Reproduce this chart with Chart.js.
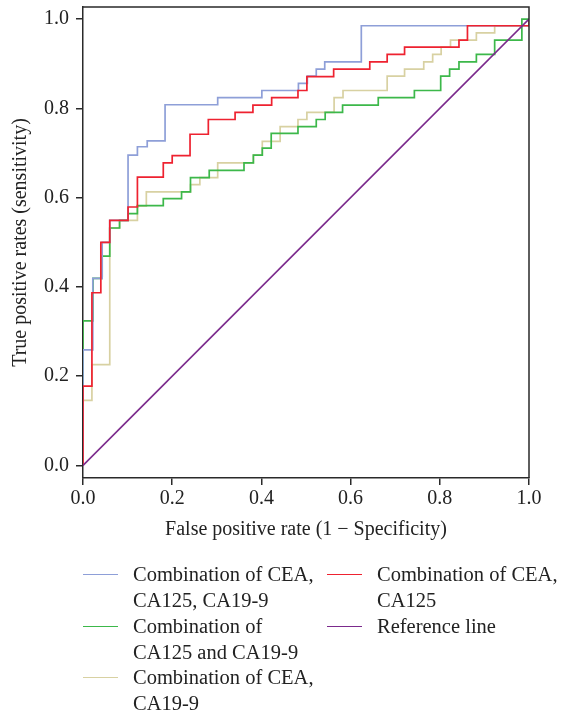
<!DOCTYPE html>
<html><head><meta charset="utf-8">
<script src="https://cdn.jsdelivr.net/npm/chart.js@4.4.0/dist/chart.umd.min.js"></script>
<style>
html,body{margin:0;padding:0;background:#fff;}
#wrap{position:relative;width:564px;height:714px;overflow:hidden;background:#fff;}
#c{position:absolute;left:0;top:0;}
#legend{position:absolute;left:0;top:0;width:564px;height:714px;font-family:"Liberation Serif",serif;font-size:20.5px;color:#222;}
.item{position:absolute;line-height:25.5px;}
.item .sw{position:absolute;height:0;border-top:1.5px solid;width:35px;top:12px;}
.item .tx{position:absolute;white-space:nowrap;}
</style></head>
<body>
<div id="wrap">
<canvas id="c" width="564" height="545" style="width:564px;height:545px"></canvas>
<div id="legend"></div>
</div>
<script>
// ---- data ----
const seriesLabels = [
  "Combination of CEA,\nCA125, CA19-9",
  "Combination of CEA,\nCA125",
  "Combination of\nCA125 and CA19-9",
  "Reference line",
  "Combination of CEA,\nCA19-9"
];
const xTicks = [0, 0.2, 0.4, 0.6, 0.8, 1.0];
const yTicks = [0, 0.2, 0.4, 0.6, 0.8, 1.0];

const fprAll = [0,0,0.022,0.043,0.06,0.101,0.122,0.144,0.184,0.302,0.401,0.483,0.503,0.523,0.542,0.624,1,1];
const tprAll = [0,0.259,0.419,0.50,0.549,0.695,0.714,0.727,0.808,0.824,0.840,0.856,0.872,0.888,0.904,0.985,0.985,1];

const fprCEA125 = [0,0,0.02,0.04,0.06,0.101,0.122,0.18,0.2,0.24,0.281,0.341,0.381,0.423,0.482,0.502,0.562,0.643,0.682,0.721,0.843,0.862,1,1];
const tprCEA125 = [0,0.178,0.387,0.50,0.549,0.579,0.646,0.678,0.694,0.742,0.775,0.791,0.807,0.824,0.840,0.871,0.888,0.904,0.921,0.937,0.953,0.985,0.985,1];

const fpr125_199 = [0,0,0.0225,0.043,0.06,0.082,0.101,0.122,0.18,0.221,0.241,0.283,0.361,0.382,0.402,0.422,0.482,0.523,0.543,0.582,0.662,0.743,0.802,0.822,0.843,0.882,0.923,0.984,1];
const tpr125_199 = [0,0.324,0.419,0.469,0.532,0.549,0.564,0.582,0.598,0.613,0.645,0.661,0.678,0.695,0.711,0.744,0.759,0.775,0.791,0.807,0.824,0.840,0.872,0.888,0.904,0.921,0.953,1.0,1.0];

const fprCEA199 = [0,0,0.02,0.06,0.082,0.122,0.142,0.241,0.262,0.302,0.382,0.402,0.442,0.482,0.502,0.563,0.583,0.682,0.721,0.764,0.784,0.803,0.824,0.882,0.923,1,1];
const tprCEA199 = [0,0.146,0.226,0.532,0.549,0.581,0.613,0.629,0.645,0.678,0.695,0.726,0.759,0.775,0.791,0.824,0.840,0.872,0.888,0.904,0.921,0.937,0.953,0.969,0.985,0.985,1];

const fprRef = [0, 1];
const tprRef = [0, 1];

const colors = ["#8e9fd8", "#ee2230", "#3cb84a", "#7b2a8c", "#d8d1a2"];

function pts(xs, ys){ return xs.map((x,i)=>({x:x, y:ys[i]})); }

const datasets = [
  {label: seriesLabels[0], data: pts(fprAll, tprAll), borderColor: colors[0], stepped: 'before', order: 2},
  {label: seriesLabels[1], data: pts(fprCEA125, tprCEA125), borderColor: colors[1], stepped: 'before', order: 1},
  {label: seriesLabels[2], data: pts(fpr125_199, tpr125_199), borderColor: colors[2], stepped: 'before', order: 3},
  {label: seriesLabels[3], data: pts(fprRef, tprRef), borderColor: colors[3], stepped: false, order: 0},
  {label: seriesLabels[4], data: pts(fprCEA199, tprCEA199), borderColor: colors[4], stepped: 'before', order: 4}
].map(d => Object.assign(d, {borderWidth: 1.7, pointRadius: 0, fill: false, tension: 0}));

const FONT = "'Liberation Serif', serif";
const axisColor = "#2a2a2a";

const framePlugin = {
  id: 'frame',
  afterDraw(chart){
    const {ctx, chartArea: a} = chart;
    ctx.save();
    ctx.strokeStyle = axisColor;
    ctx.lineWidth = 1.5;
    ctx.beginPath();
    ctx.moveTo(a.left, a.top);
    ctx.lineTo(a.right, a.top);
    ctx.lineTo(a.right, a.bottom);
    ctx.stroke();
    ctx.restore();
  }
};

function noPad(s){ s.paddingTop = 0; s.paddingBottom = 0; s.paddingLeft = 0; s.paddingRight = 0; }

new Chart(document.getElementById('c'), {
  type: 'line',
  data: {datasets},
  plugins: [framePlugin],
  options: {
    responsive: false,
    animation: false,
    layout: {padding: {top: 7, right: 35, left: 0, bottom: 0}},
    plugins: {legend: {display: false}, tooltip: {enabled: false}},
    scales: {
      x: {
        type: 'linear', min: 0, max: 1,
        afterBuildTicks: s => { s.ticks = xTicks.map(v => ({value: v})); },
        afterFit: s => { s.height = 67; noPad(s); },
        ticks: {font: {family: FONT, size: 20}, color: '#222', padding: 2, maxRotation: 0,
                callback: v => Number(v).toFixed(1)},
        grid: {display: true, drawOnChartArea: false, drawTicks: true, tickLength: 7, color: axisColor, lineWidth: 1.5},
        border: {display: true, color: axisColor, width: 1.5},
        title: {display: true, text: 'False positive rate (1 \u2212 Specificity)', font: {family: FONT, size: 20}, color: '#222', padding: {top: 0, bottom: 3}}
      },
      y: {
        type: 'linear', min: -0.028, max: 1.027,
        afterBuildTicks: s => { s.ticks = yTicks.map(v => ({value: v})); },
        afterFit: s => { s.width = 83; noPad(s); },
        ticks: {font: {family: FONT, size: 20}, color: '#222', padding: 7,
                callback: v => Number(v).toFixed(1)},
        grid: {display: true, drawOnChartArea: false, drawTicks: true, tickLength: 7, color: axisColor, lineWidth: 1.5},
        border: {display: true, color: axisColor, width: 1.5},
        title: {display: true, text: 'True positive rates (sensitivity)', font: {family: FONT, size: 20}, color: '#222', padding: {top: 9, bottom: 0}}
      }
    }
  }
});

// ---- HTML legend (two columns, as in the reference) ----
const legendSlots = [
  {i: 0, left: 83, top: 562},
  {i: 1, left: 327, top: 562},
  {i: 2, left: 83, top: 614},
  {i: 3, left: 327, top: 614},
  {i: 4, left: 83, top: 665}
];
const lg = document.getElementById('legend');
legendSlots.forEach(s => {
  const it = document.createElement('div');
  it.className = 'item';
  it.style.left = s.left + 'px';
  it.style.top = s.top + 'px';
  const sw = document.createElement('div');
  sw.className = 'sw';
  sw.style.left = '0px';
  sw.style.borderTopColor = colors[s.i];
  const tx = document.createElement('div');
  tx.className = 'tx';
  tx.style.left = '50px';
  tx.style.top = '0px';
  tx.innerHTML = seriesLabels[s.i].split('\n').join('<br>');
  it.appendChild(sw); it.appendChild(tx);
  lg.appendChild(it);
});
</script>
</body></html>
